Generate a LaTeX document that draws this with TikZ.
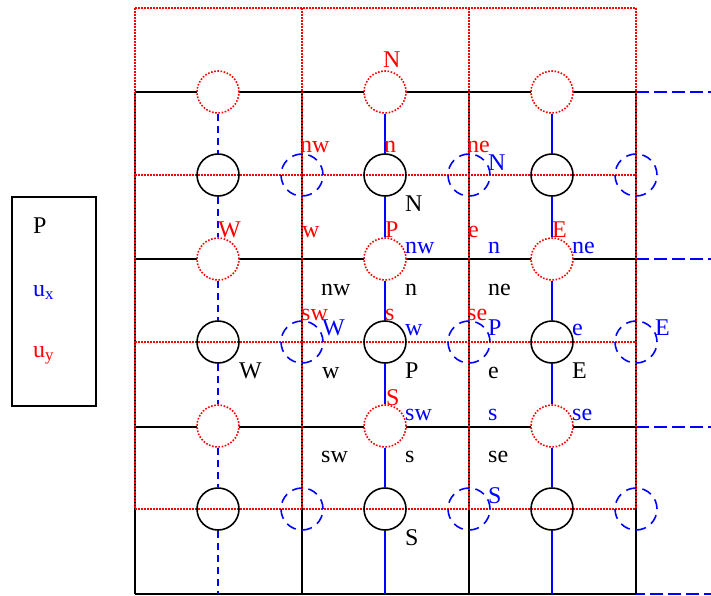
\documentclass[tikz,border=0pt]{standalone}
\usepackage{fontspec}
\setmainfont{Liberation Serif}
\begin{document}
\begin{tikzpicture}[x=1pt,y=-1pt,
  blk/.style={line width=1.6pt,black},
  reddot/.style={line width=1.7pt,red,dash pattern=on 1.6pt off 1.4pt},
  bluevert/.style={line width=1.6pt,blue},
  bluedash/.style={line width=1.6pt,blue,dash pattern=on 7pt off 5pt},
  blueext/.style={line width=1.6pt,blue,dash pattern=on 13pt off 5pt},
  kcirc/.style={circle,draw=black,line width=1.6pt,minimum size=42pt,inner sep=0pt},
  ucirc/.style={circle,draw=blue,line width=1.6pt,dash pattern=on 10pt off 6.5pt,minimum size=42pt,inner sep=0pt},
  rcirc/.style={circle,draw=red,fill=white,line width=1.6pt,dash pattern=on 1.6pt off 1.6pt,minimum size=42pt,inner sep=0pt},
  lab/.style={anchor=base west,inner sep=0pt,font=\fontsize{24}{28}\selectfont},
  lk/.style={lab,text=black},
  lr/.style={lab,text=red},
  lb/.style={lab,text=blue}]
\useasboundingbox (0,0) rectangle (711,596);
% blue extensions
\draw[blueext] (218,594) -- (711,594);
\foreach \y in {92,259,427} \draw[blueext] (636,\y) -- (711,\y);
% black grid
\foreach \x in {135,302,469,636} \draw[blk] (\x,92) -- (\x,594);
\foreach \y in {92,259,427,594} \draw[blk] (135,\y) -- (636,\y);
% red dotted grid
\foreach \x in {135,302,469,636} \draw[reddot] (\x,8) -- (\x,509);
\foreach \y in {8,175,342,509} \draw[reddot] (135,\y) -- (636,\y);
% circles
\foreach \i/\x in {1/218,2/385,3/552}{
  \foreach \j/\y in {1/175,2/342,3/509}{
    \node[kcirc] (k\i\j) at (\x,\y) {};
  }
  \foreach \j/\y in {1/92,2/259,3/426}{
    \node[rcirc] (r\i\j) at (\x,\y) {};
  }
}
\foreach \i/\x in {1/302,2/469,3/636}{
  \foreach \j/\y in {1/175,2/342,3/509}{
    \node[ucirc] (u\i\j) at (\x,\y) {};
  }
}
\coordinate (b1) at (218,594);
\coordinate (b2) at (385,594);
\coordinate (b3) at (552,594);
% blue vertical connectors
\foreach \i/\st in {1/bluedash,2/bluevert,3/bluevert}{
  \draw[\st] (r\i1.south) -- (k\i1.north);
  \draw[\st] (k\i1.south) -- (r\i2.north);
  \draw[\st] (r\i2.south) -- (k\i2.north);
  \draw[\st] (k\i2.south) -- (r\i3.north);
  \draw[\st] (r\i3.south) -- (k\i3.north);
  \draw[\st] (k\i3.south) -- (b\i);
}
% legend
\node[draw,line width=1.6pt,minimum width=84pt,minimum height=209pt,inner sep=0pt] (leg) at (54,301.5) {};
\node[lk] (lP) at (33,233) {P};
\node[lb] (lux) at (33,296) {u\textsubscript{x}};
\node[lr] (luy) at (33,357) {u\textsubscript{y}};
% red labels
\node[lr] (tN) at (383,68) {N};
\node[lr] (tnw) at (300,153) {nw};
\node[lr] (tn) at (384,153) {n};
\node[lr] (tne) at (467,153) {ne};
\node[lr] (tW) at (218,237) {W};
\node[lr] (tw) at (302,237) {w};
\node[lr] (tP) at (385,237) {P};
\node[lr] (te) at (468,237) {e};
\node[lr] (tE) at (552,237) {E};
\node[lr] (tsw) at (301,320) {sw};
\node[lr] (ts) at (385,320) {s};
\node[lr] (tse) at (467,320) {se};
\node[lr] (tS) at (386,405) {S};
% blue labels
\node[lb] (bN) at (488,170) {N};
\node[lb] (bnw) at (405,253) {nw};
\node[lb] (bn) at (488,253) {n};
\node[lb] (bne) at (572,253) {ne};
\node[lb] (bW) at (322,335) {W};
\node[lb] (bw) at (405,335) {w};
\node[lb] (bP) at (488,335) {P};
\node[lb] (be) at (572,335) {e};
\node[lb] (bE) at (655,335) {E};
\node[lb] (bsw) at (405,420) {sw};
\node[lb] (bs) at (488,420) {s};
\node[lb] (bse) at (572,420) {se};
\node[lb] (bS) at (488,503) {S};
% black labels
\node[lk] (kN) at (405,211) {N};
\node[lk] (knw) at (321,295) {nw};
\node[lk] (kn) at (405,295) {n};
\node[lk] (kne) at (488,295) {ne};
\node[lk] (kW) at (239,378) {W};
\node[lk] (kw) at (322,378) {w};
\node[lk] (kP) at (405,378) {P};
\node[lk] (ke) at (488,378) {e};
\node[lk] (kE) at (572,378) {E};
\node[lk] (ksw) at (321,462) {sw};
\node[lk] (ks) at (405,462) {s};
\node[lk] (kse) at (488,462) {se};
\node[lk] (kS) at (405,545) {S};
\end{tikzpicture}
\end{document}
